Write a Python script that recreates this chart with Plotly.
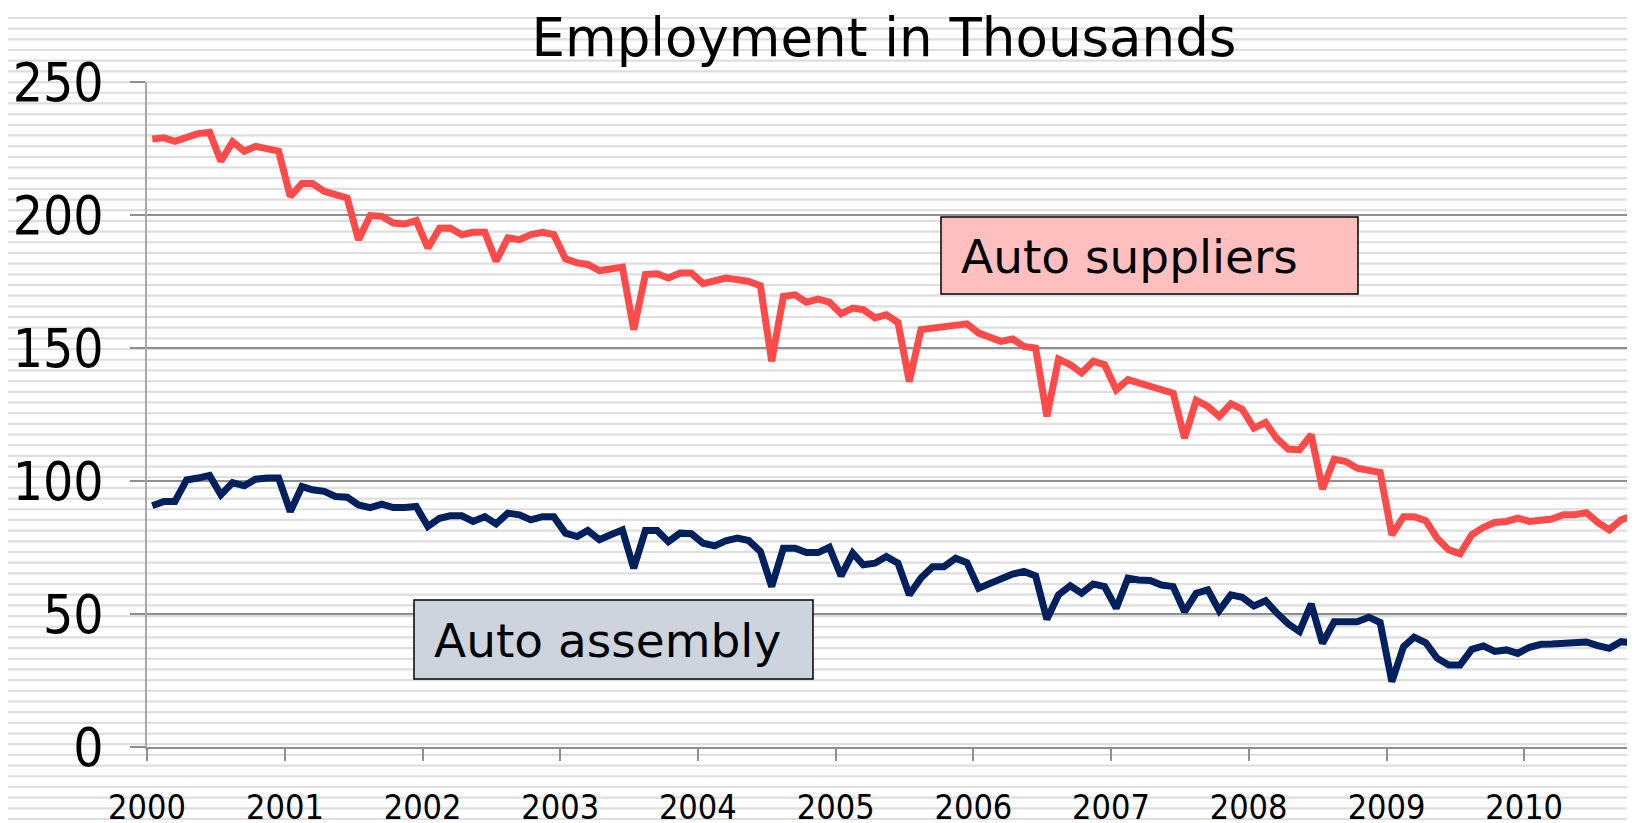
import plotly.graph_objects as go

# Monthly employment (thousands), Jan 2000 - Oct 2010
years = list(range(2000, 2011))
months = [f"{y}-{m:02d}-15" for y in years for m in range(1, 13)][:130]

auto_suppliers = [
    228.6, 229.0, 227.7, 229.0, 230.6, 231.1, 220.2, 227.5, 224.0, 225.8, 224.6, 224.0,
    207.0, 211.8, 211.8, 208.9, 207.7, 206.4, 190.7, 199.8, 199.5, 197.0, 196.6, 197.9,
    187.6, 195.0, 195.1, 192.6, 193.5, 193.5, 182.6, 191.4, 190.7, 192.6, 193.5, 192.6,
    183.5, 182.0, 181.4, 179.1, 179.7, 180.4, 156.9, 177.6, 177.9, 176.3, 178.2, 178.2,
    174.2, 175.0, 176.3, 175.7, 175.0, 173.4, 145.0, 169.4, 170.0, 167.2, 168.4, 167.2,
    162.9, 165.0, 164.4, 161.3, 162.5, 159.6, 137.4, 156.9, 157.5, 158.1, 158.5, 159.1,
    155.6, 154.1, 152.5, 153.4, 150.6, 150.0, 124.3, 145.8, 143.7, 140.6, 145.0, 143.7,
    134.3, 138.1, 136.8, 135.5, 134.0, 133.0, 116.1, 130.3, 128.0, 124.3, 129.0, 127.0,
    119.9, 122.0, 116.1, 112.0, 111.7, 117.4, 97.0, 108.2, 107.3, 104.8, 104.0, 103.2,
    79.8, 86.6, 86.6, 85.1, 78.5, 74.1, 72.6, 79.8, 82.6, 84.4, 84.8, 86.0,
    84.8, 85.4, 85.7, 87.3, 87.3, 88.1, 84.4, 81.6, 85.4, 86.9,
]

auto_assembly = [
    90.7, 92.3, 92.3, 100.4, 101.1, 102.1, 94.8, 99.4, 98.2, 100.7, 101.1, 101.1,
    88.5, 97.9, 96.7, 96.1, 94.2, 93.9, 91.0, 90.0, 91.3, 90.0, 90.0, 90.4,
    82.9, 86.0, 86.9, 86.9, 84.8, 86.6, 83.9, 87.9, 87.3, 85.4, 86.6, 86.6,
    80.4, 79.1, 81.4, 77.9, 79.8, 81.6, 67.2, 81.4, 81.4, 77.2, 80.4, 80.2,
    76.6, 75.6, 77.5, 78.5, 77.6, 73.5, 60.3, 74.7, 74.7, 73.1, 73.1, 75.1,
    64.3, 72.9, 68.5, 69.1, 71.6, 69.1, 57.2, 63.5, 67.8, 67.8, 71.0, 69.3,
    59.7, 61.6, 62.6, 65.0, 66.0, 64.3, 48.0, 57.2, 60.6, 57.8, 61.3, 60.3,
    52.2, 63.5, 62.8, 62.6, 60.9, 60.3, 50.9, 57.8, 59.1, 51.3, 57.2, 56.3,
    53.0, 55.0, 50.5, 46.3, 43.4, 53.8, 39.0, 47.1, 47.1, 47.1, 48.8, 46.8,
    24.6, 37.7, 41.3, 39.2, 33.4, 30.8, 30.8, 36.7, 38.0, 35.9, 36.5, 35.2,
    37.5, 38.6, 38.7, 39.0, 39.2, 39.5, 38.1, 37.1, 39.6, 39.2,
]

y_ticks = [0, 50, 100, 150, 200, 250]
x_ticks = [f"{y}-01-01" for y in years]
x_tick_labels = [str(y) for y in years]

RED = "#ff4a4a"
NAVY = "#00215e"
GRID = "#8f8f8f"
FONT = "DejaVu Sans"
COND = "DejaVu Sans Condensed, DejaVu Sans"

# page is 1635x823 but the body has an 8px margin, so the figure is a bit smaller
PAGE_W, PAGE_H = 1635, 823
OFF = 8
PLOT_X0, PLOT_X1 = 147, 1635     # plot area in page pixels
PLOT_Y0, PLOT_Y1 = 82, 747
W, H = PAGE_W - OFF, PAGE_H - OFF


def px_x(x):
    return (x - PLOT_X0) / (PLOT_X1 - PLOT_X0)


def px_y(y):
    return (PLOT_Y1 - y) / (PLOT_Y1 - PLOT_Y0)


fig = go.Figure()
fig.add_trace(go.Scatter(x=months, y=auto_suppliers, mode="lines", name="Auto suppliers",
                         line=dict(color=RED, width=7)))
fig.add_trace(go.Scatter(x=months, y=auto_assembly, mode="lines", name="Auto assembly",
                         line=dict(color=NAVY, width=7)))

# striped background, like the original's pattern fill
shapes = []
y_px = 7.3 + 10.68
while y_px < PAGE_H:
    shapes.append(dict(type="line", xref="paper", yref="paper", x0=px_x(OFF), x1=1,
                       y0=px_y(y_px), y1=px_y(y_px),
                       line=dict(color="#dedede", width=2.2), layer="below"))
    y_px += 10.68

# label boxes
shapes.append(dict(type="rect", xref="paper", yref="paper",
                   x0=px_x(941), x1=px_x(1358), y0=px_y(294), y1=px_y(217),
                   fillcolor="#ffbfbf", line=dict(color="black", width=1.5), layer="above"))
shapes.append(dict(type="rect", xref="paper", yref="paper",
                   x0=px_x(414), x1=px_x(813), y0=px_y(679), y1=px_y(600),
                   fillcolor="#cdd4de", line=dict(color="black", width=1.5), layer="above"))

annotations = [
    dict(text="Auto suppliers", xref="paper", yref="paper", x=px_x(959), y=px_y(256),
         xanchor="left", yanchor="middle", showarrow=False,
         font=dict(family=FONT, size=47, color="black")),
    dict(text="Auto assembly", xref="paper", yref="paper", x=px_x(432), y=px_y(640),
         xanchor="left", yanchor="middle", showarrow=False,
         font=dict(family=FONT, size=47, color="black")),
]

fig.update_layout(
    width=W, height=H,
    margin=dict(l=PLOT_X0 - OFF, r=PAGE_W - PLOT_X1, t=PLOT_Y0 - OFF, b=PAGE_H - PLOT_Y1,
                autoexpand=False),
    paper_bgcolor="white",
    plot_bgcolor="rgba(0,0,0,0)",
    showlegend=False,
    title=dict(text="Employment in Thousands", x=(884 - OFF) / W, xanchor="center",
               y=1 - (37 - OFF) / H, yanchor="middle", xref="container", yref="container",
               font=dict(family=FONT, size=53, color="black")),
    xaxis=dict(
        type="date",
        range=["2000-01-01", "2010-10-22"],
        tickmode="array", tickvals=x_ticks, ticktext=x_tick_labels,
        showgrid=False, zeroline=False, automargin=False,
        showline=True, linecolor=GRID, linewidth=1.5,
        ticks="outside", ticklen=12, tickcolor=GRID, tickwidth=1.5,
        ticklabelstandoff=17,
        tickfont=dict(family=COND, size=34, color="black"),
    ),
    yaxis=dict(
        range=[0, 250],
        tickmode="array", tickvals=y_ticks,
        showgrid=True, gridcolor=GRID, gridwidth=1.5,
        zeroline=False, automargin=False,
        showline=True, linecolor="#a8a8a8", linewidth=1.5,
        ticks="outside", ticklen=15, tickcolor=GRID, tickwidth=1.5,
        ticklabelstandoff=16,
        tickfont=dict(family=COND, size=53, color="black"),
    ),
    shapes=shapes,
    annotations=annotations,
)

fig.write_html("out.html")
